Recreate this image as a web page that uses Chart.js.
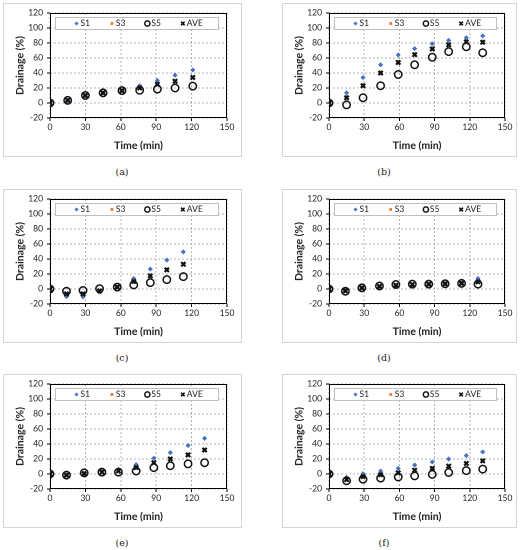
<!DOCTYPE html>
<html>
<head>
<meta charset="utf-8">
<script src="https://cdn.jsdelivr.net/npm/chart.js@4.4.1/dist/chart.umd.min.js"></script>
<style>
  html, body { margin:0; padding:0; background:#fff; }
  body { width:523px; height:550px; position:relative; overflow:hidden; }
  .box { position:absolute; border:1px solid #d4d4d4; box-sizing:border-box; background:#fff; }
  .box canvas { position:absolute; left:0; top:0; }
  .cap { position:absolute; width:40px; margin-left:-20px; text-align:center; font-family:"DejaVu Serif","Liberation Serif",serif; font-size:9.5px; color:#222; }
</style>
</head>
<body>
<div class="box" id="bA" style="left:3px;top:3px;width:239px;height:154px;"><canvas id="cA"></canvas></div>
<div class="box" id="bB" style="left:282px;top:3px;width:235px;height:154px;"><canvas id="cB"></canvas></div>
<div class="box" id="bC" style="left:3px;top:189px;width:239px;height:154px;"><canvas id="cC"></canvas></div>
<div class="box" id="bD" style="left:282px;top:189px;width:235px;height:154px;"><canvas id="cD"></canvas></div>
<div class="box" id="bE" style="left:3px;top:374px;width:239px;height:154px;"><canvas id="cE"></canvas></div>
<div class="box" id="bF" style="left:282px;top:374px;width:235px;height:154px;"><canvas id="cF"></canvas></div>
<div class="cap" style="left:122px;top:166px;">(a)</div>
<div class="cap" style="left:384px;top:166px;">(b)</div>
<div class="cap" style="left:122px;top:352px;">(c)</div>
<div class="cap" style="left:384px;top:352px;">(d)</div>
<div class="cap" style="left:122px;top:537px;">(e)</div>
<div class="cap" style="left:384px;top:537px;">(f)</div>
<script>
// ---- data ----
const seriesLabels = ["S1", "S3", "S5", "AVE"];
const xTitle = "Time (min)";
const yTitle = "Drainage (%)";
const xTicks = [0, 30, 60, 90, 120, 150];
const yTicks = [-20, 0, 20, 40, 60, 80, 100, 120];

const timesA = [0, 15, 30, 45, 61, 76, 91, 106, 121];
const s1A = [0, 3.5, 10, 13.5, 16.5, 23, 30, 37, 44];
const s3A = [0, 3.5, 10, 13.5, 16.5, 20, 25.5, 29.5, 34.5];
const s5A = [0, 3.5, 10, 13.5, 16.5, 17, 18.5, 20, 22.5];
const aveA = [0, 3.5, 10, 13.5, 16.5, 20, 25, 29, 34];

const timesB = [0, 15, 29, 44, 59, 73, 88, 102, 117, 131];
const s1B = [0, 13.5, 34, 51, 64, 72.5, 79, 83.5, 87, 89.5];
const s3B = [0, 8, 24, 41, 55, 65, 73, 78, 82, 82];
const s5B = [0, -2.5, 7, 23, 38, 51, 61, 68.5, 75, 67];
const aveB = [0, 7, 23, 40, 54, 64.5, 72, 77.5, 81.5, 81];

const timesC = [0, 14, 28, 42, 57, 71, 85, 99, 113];
const s1C = [0, -10, -10.5, -4, 2.5, 14, 26.5, 38.5, 49.5];
const s3C = [0, -7, -7, -3, 3, 10, 18, 26, 33];
const s5C = [0, -3, -2, 0.5, 2.5, 5.5, 8.5, 12.5, 16.5];
const aveC = [0, -6.5, -6.5, -2.5, 2.5, 10, 17.5, 25.5, 33];

const timesD = [0, 14, 28, 43, 57, 71, 85, 99, 113, 127];
const s1D = [0, -2, 1.5, 3, 4, 4.5, 6, 7, 8, 14];
const s3D = [0, -2, 1.5, 3.5, 5, 6, 6.5, 7, 7.5, 9];
const s5D = [0, -3, 1.5, 4, 6, 6.5, 6.5, 7, 7.5, 6.5];
const aveD = [0, -2.5, 1.5, 3.5, 5, 6, 6.5, 7, 7.5, 9.5];

const timesE = [0, 14, 29, 44, 58, 73, 88, 102, 117, 131];
const s1E = [0, -1.5, 1, 3.5, 6, 12.5, 21, 28.5, 38, 47.5];
const s3E = [0, -1.5, 0, 2, 4.5, 9, 15, 20, 26, 32];
const s5E = [0, -1.5, 1.5, 2.5, 2.5, 4, 8.5, 11, 13.5, 15];
const aveE = [0, -1.5, 0.5, 2.5, 4, 8.5, 15, 20, 25.5, 32];

const timesF = [0, 15, 29, 44, 59, 73, 88, 102, 117, 131];
const s1F = [0, -4.5, 0.5, 4, 7.5, 12, 16, 20, 24.5, 29.5];
const s3F = [0, -7.5, -3.5, -1.5, 1.5, 5, 7.5, 10.5, 14, 17.5];
const s5F = [0, -9, -7, -5.5, -4, -2.5, -0.5, 2, 4.5, 6.5];
const aveF = [0, -7.5, -3.5, -1, 1.5, 5, 7.5, 10.5, 14, 17.5];

// ---- styles ----
const FONT = "Lato, 'Open Sans', sans-serif";
const styles = [
  { pointStyle: 'rectRot', radius: 2.3, bg: '#4472C4', border: '#4472C4', bw: 0.5, order: 3, lr: 1.8 },
  { pointStyle: 'rect', radius: 2.4, bg: '#ED7D31', border: '#ED7D31', bw: 0, order: 2, lr: 2.0 },
  { pointStyle: 'circle', radius: 3.7, bg: 'rgba(0,0,0,0)', border: '#111', bw: 1.5, order: 1, lr: 2.6 },
  { pointStyle: 'crossRot', radius: 3.0, bg: '#000', border: '#111', bw: 2.2, order: 0, lr: 2.5 }
];

const framePlugin = {
  id: 'frame',
  beforeDatasetsDraw(chart) {
    const a = chart.chartArea, ctx = chart.ctx;
    ctx.save();
    ctx.strokeStyle = '#000';
    ctx.lineWidth = 1;
    ctx.strokeRect(Math.round(a.left) + 0.5, Math.round(a.top) + 0.5, Math.round(a.right - a.left) - 1, Math.round(a.bottom - a.top) - 1);
    ctx.restore();
  }
};

const innerLegend = {
  id: 'innerLegend',
  afterDatasetsDraw(chart) {
    const a = chart.chartArea, ctx = chart.ctx;
    const left = a.left + 5, right = a.right - 9, top = a.top + 4, h = 12;
    ctx.save();
    ctx.fillStyle = '#fff';
    ctx.fillRect(left, top, right - left, h);
    ctx.strokeStyle = '#bfbfbf';
    ctx.lineWidth = 1;
    ctx.strokeRect(Math.round(left) + 0.5, Math.round(top) + 0.5, Math.round(right - left), h);
    const cy = top + h / 2 + 0.5;
    const step = (right - left) / 4.6;
    chart.data.datasets.forEach((ds, i) => {
      const st = styles[i];
      const mx = left + 21.5 + i * step;
      ctx.fillStyle = st.bg;
      ctx.strokeStyle = st.border;
      ctx.lineWidth = Math.min(st.bw, 1.6);
      Chart.helpers.drawPoint(ctx, { pointStyle: st.pointStyle, radius: st.lr, rotation: 0, borderWidth: Math.min(st.bw, 1.6) }, mx, cy);
      ctx.fillStyle = '#222';
      ctx.font = "8.5px " + FONT;
      ctx.textAlign = 'left';
      ctx.textBaseline = 'middle';
      ctx.fillText(ds.label, mx + 4, cy);
    });
    ctx.restore();
  }
};

function pairs(t, v) { return t.map((x, i) => ({ x: x, y: v[i] })); }

function makeChart(id, boxId, rightPad, times, s1, s3, s5, ave) {
  const box = document.getElementById(boxId);
  const cv = document.getElementById(id);
  cv.style.left = '-1px'; cv.style.top = '-1px';
  const vals = [s1, s3, s5, ave];
  const datasets = vals.map((v, i) => ({
    label: seriesLabels[i],
    data: pairs(times, v),
    showLine: false,
    pointStyle: styles[i].pointStyle,
    pointRadius: styles[i].radius,
    pointHoverRadius: styles[i].radius,
    pointBackgroundColor: styles[i].bg,
    pointBorderColor: styles[i].border,
    pointBorderWidth: styles[i].bw,
    order: styles[i].order
  }));
  const tickFont = { family: FONT, size: 8.5 };
  const titleFont = { family: FONT, size: 10.5, weight: 'bold' };
  return new Chart(cv, {
    type: 'scatter',
    data: { datasets },
    options: {
      responsive: false,
      animation: false,
      devicePixelRatio: 2,
      layout: { padding: { left: 11, top: 10, right: rightPad, bottom: 0 } },
      plugins: { legend: { display: false }, tooltip: { enabled: false } },
      scales: {
        x: {
          type: 'linear', min: xTicks[0], max: xTicks[xTicks.length - 1],
          afterBuildTicks: s => { s.ticks = xTicks.map(v => ({ value: v })); },
          afterFit: s => { s.height = 39; },
          ticks: { font: tickFont, color: '#222', padding: 1, maxRotation: 0 },
          grid: { color: '#a0a0a0', lineWidth: 0.8, drawTicks: true, tickLength: 3, tickColor: '#000', tickWidth: 1, tickBorderDash: [] },
          border: { display: false, dash: [2, 2] },
          title: { display: true, text: xTitle, font: titleFont, color: '#222', padding: { top: 0, bottom: 5 } }
        },
        y: {
          type: 'linear', min: yTicks[0], max: yTicks[yTicks.length - 1],
          afterBuildTicks: s => { s.ticks = yTicks.map(v => ({ value: v })); },
          afterFit: s => { s.width = 36; },
          ticks: { font: tickFont, color: '#222', padding: 4 },
          grid: { color: '#a0a0a0', lineWidth: 0.8, drawTicks: true, tickLength: 3, tickColor: '#000', tickWidth: 1, tickBorderDash: [] },
          border: { display: false, dash: [2, 2] },
          title: { display: true, text: yTitle, font: titleFont, color: '#222', padding: { top: 0, bottom: 0 } }
        }
      }
    },
    plugins: [framePlugin, innerLegend]
  });
}

function sizeCanvas(id, boxId) {
  const box = document.getElementById(boxId);
  const cv = document.getElementById(id);
  cv.width = box.clientWidth + 2; cv.height = box.clientHeight + 2;
  cv.style.width = (box.clientWidth + 2) + 'px';
  cv.style.height = (box.clientHeight + 2) + 'px';
}
[['cA','bA'],['cB','bB'],['cC','bC'],['cD','bD'],['cE','bE'],['cF','bF']].forEach(p => sizeCanvas(p[0], p[1]));

makeChart('cA', 'bA', 15, timesA, s1A, s3A, s5A, aveA);
makeChart('cB', 'bB', 12, timesB, s1B, s3B, s5B, aveB);
makeChart('cC', 'bC', 15, timesC, s1C, s3C, s5C, aveC);
makeChart('cD', 'bD', 12, timesD, s1D, s3D, s5D, aveD);
makeChart('cE', 'bE', 15, timesE, s1E, s3E, s5E, aveE);
makeChart('cF', 'bF', 12, timesF, s1F, s3F, s5F, aveF);
</script>
</body>
</html>
